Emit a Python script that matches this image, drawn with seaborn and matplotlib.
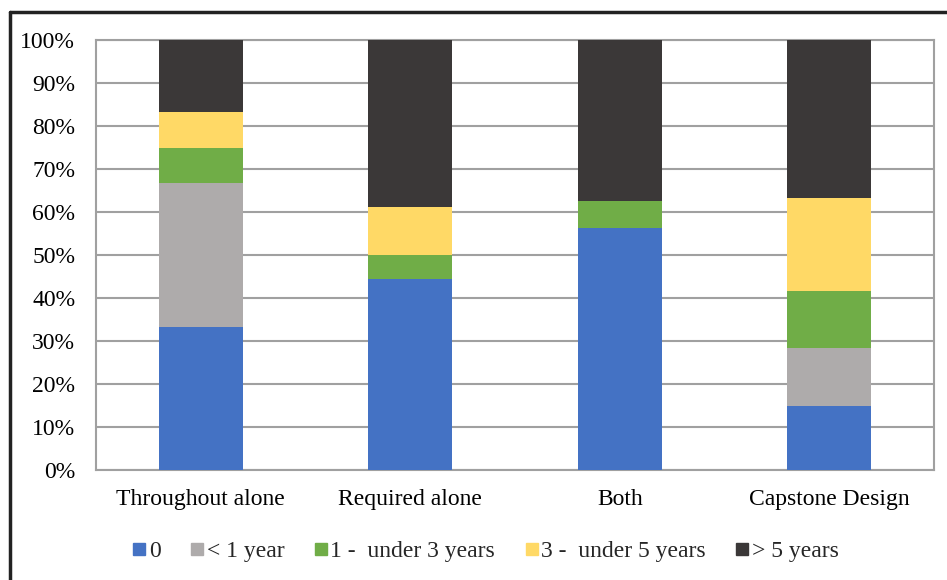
import matplotlib
matplotlib.use("Agg")
import matplotlib.pyplot as plt
import matplotlib.lines as mlines
import numpy as np
import pandas as pd
import seaborn as sns

# Share of respondents by years of experience (percent)
categories = ["Throughout alone", "Required alone", "Both", "Capstone Design"]
series_names = ["0", "< 1 year", "1 -  under 3 years", "3 -  under 5 years", "> 5 years"]
zero_years = [33.33, 44.44, 56.25, 15.00]
under_1 = [33.33, 0.00, 0.00, 13.33]
one_to_3 = [8.33, 5.56, 6.25, 13.33]
three_to_5 = [8.33, 11.11, 0.00, 21.67]
over_5 = [16.67, 38.89, 37.50, 36.67]
y_ticks = [0, 10, 20, 30, 40, 50, 60, 70, 80, 90, 100]
y_tick_labels = [f"{t}%" for t in y_ticks]

colors = ["#4472C4", "#AEABAB", "#70AD47", "#FFD966", "#3B3838"]

sns.set_theme(style="white")
plt.rcParams["font.family"] = ["Liberation Serif", "DejaVu Serif"]

fig = plt.figure(figsize=(9.47, 5.8), dpi=100)
ax = fig.add_axes([96 / 947, 1 - 470 / 580, (934 - 96) / 947, (470 - 40) / 580])

values = [zero_years, under_1, one_to_3, three_to_5, over_5]
bottom = np.zeros(len(categories))
for name, vals, col in zip(series_names, values, colors):
    df = pd.DataFrame({"category": categories, "value": vals})
    sns.barplot(data=df, x="category", y="value", order=categories,
                color=col, width=0.4, bottom=bottom, ax=ax,
                edgecolor="none", linewidth=0, saturation=1, zorder=3)
    bottom = bottom + np.array(vals)

ax.set_ylim(0, 100)
ax.set_xlim(-0.5, len(categories) - 0.5)
ax.set_yticks(y_ticks)
ax.set_yticklabels(y_tick_labels)
ax.set_xlabel("")
ax.set_ylabel("")
ax.yaxis.grid(True, color="#A0A0A0", linewidth=1.5, zorder=0)
ax.set_axisbelow(True)
for side in ["left", "right", "bottom", "top"]:
    ax.spines[side].set_visible(True)
    ax.spines[side].set_color("#A0A0A0")
    ax.spines[side].set_linewidth(1.5)
ax.tick_params(axis="both", length=0, labelsize=17, labelcolor="black")
ax.tick_params(axis="y", pad=15)
ax.tick_params(axis="x", pad=14)

handles = [mlines.Line2D([], [], marker="s", linestyle="none", markersize=8.5,
                         markerfacecolor=c, markeredgecolor=c)
           for c in colors]
fig.legend(handles, series_names, loc="center", bbox_to_anchor=(0.512, 1 - 551 / 580),
           ncol=5, frameon=False, fontsize=17, handletextpad=0.05,
           columnspacing=1.2, handlelength=0.7)

# Outer frame (top and left edges)
fig.add_artist(mlines.Line2D([10 / 947, 1], [1 - 12 / 580, 1 - 12 / 580],
                             transform=fig.transFigure, color="#222222", linewidth=2.5))
fig.add_artist(mlines.Line2D([10 / 947, 10 / 947], [0, 1 - 12 / 580],
                             transform=fig.transFigure, color="#222222", linewidth=2.5))

fig.savefig("out.png", dpi=100)
